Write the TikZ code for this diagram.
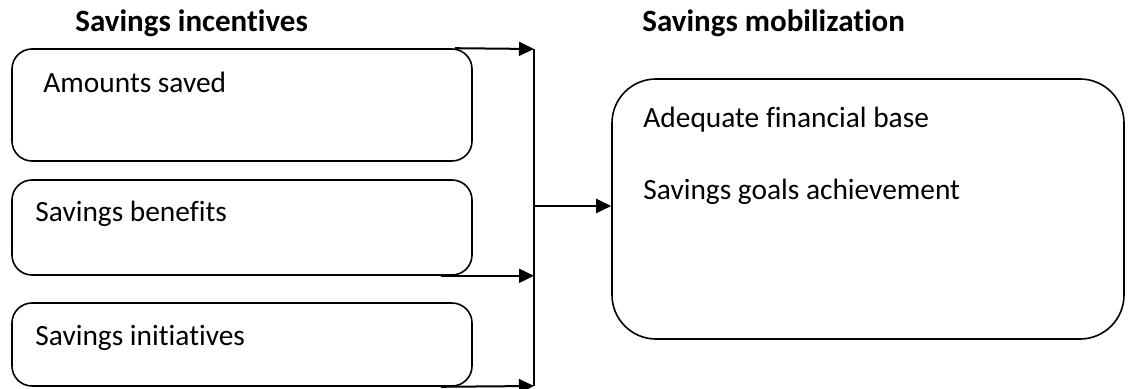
\documentclass[tikz,border=0pt]{standalone}
\usepackage{fontspec}
\setmainfont{Carlito}[Ligatures={NoCommon}]
\usetikzlibrary{arrows.meta, calc}

\tikzset{
  incbox/.style={draw, line width=0.8pt, rounded corners=10pt, minimum width=230pt, inner sep=0pt},
  mobbox/.style={draw, line width=0.8pt, rounded corners=22pt, minimum width=256pt, minimum height=130pt, inner sep=0pt},
  txt/.style={anchor=base west, inner sep=0pt, font=\fontsize{14.7}{17}\selectfont},
  head/.style={anchor=base west, inner sep=0pt, font=\fontsize{15.5}{18}\selectfont\bfseries},
  flow/.style={line width=1pt, -{Triangle[length=7.5pt,width=7pt]}},
  bus/.style={line width=1pt}
}

\begin{document}
\begin{tikzpicture}[x=0.5pt, y=-0.5pt]
            \useasboundingbox (0,0) rectangle (1128,389);

            % headings
            \node[head] (inchead) at (75,32) {Savings incentives};
            \node[head] (mobhead) at (642,32) {Savings mobilization};

            % incentive boxes
            \node[incbox, minimum height=56pt] (amounts) at (242,105) {};
            \node[txt] (amountstxt) at (43,93) {Amounts saved};

            \node[incbox, minimum height=47.5pt] (benefits) at (242,227.5) {};
            \node[txt] (benefitstxt) at (35,222) {Savings benefits};

            \node[incbox, minimum height=41.5pt] (initiatives) at (242,344.5) {};
            \node[txt] (initiativestxt) at (35,345) {Savings initiatives};

            % mobilization box
            \node[mobbox] (mobil) at (868,209) {};
            \node[txt] (basetxt) at (643,128) {Adequate financial base};
            \node[txt] (goalstxt) at (643,200) {Savings goals achievement};

            % connectors
            \coordinate (bustop) at (534,49);
            \coordinate (busbot) at (534,386);
            \coordinate (junc) at (534,206);
            \draw[bus] (bustop) -- (busbot);
            \draw[flow] ([xshift=-9pt]amounts.north east) -- (bustop);
            \draw[flow] ([xshift=-16pt]benefits.south east) -- (benefits.south east -| bustop);
            \draw[flow] ([xshift=-16pt]initiatives.south east) -- (busbot);
            \draw[flow] (junc) -- (junc -| mobil.west);
        \end{tikzpicture}
\end{document}
